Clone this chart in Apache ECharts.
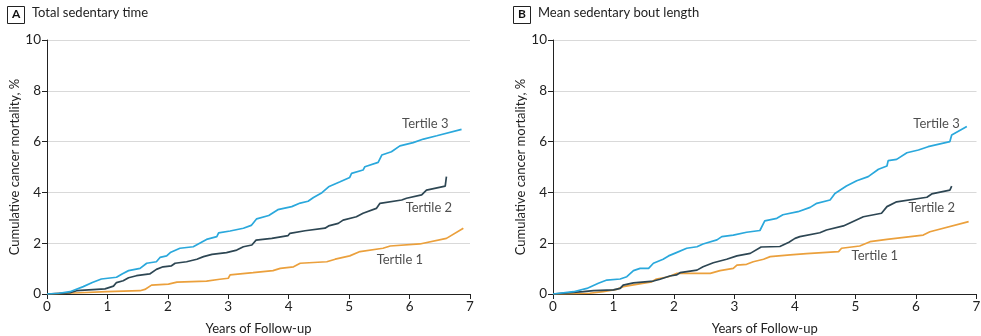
<!DOCTYPE html>
<html>
<head>
<meta charset="utf-8">
<script src="https://cdn.jsdelivr.net/npm/echarts@6/dist/echarts.min.js"></script>
<style>
  html, body { margin: 0; padding: 0; background: #fff; }
  #chart { width: 981px; height: 336px; }
</style>
</head>
<body>
<div id="chart"></div>
<script>
// Cumulative cancer mortality by tertile, [years, percent]
const totalTertile3 = [[0,0],[0.2,0.03],[0.38,0.09],[0.6,0.29],[0.75,0.45],[0.9,0.59],[1.15,0.66],[1.25,0.8],[1.35,0.92],[1.54,1.01],[1.65,1.21],[1.81,1.27],[1.87,1.44],[1.98,1.5],[2.04,1.63],[2.2,1.8],[2.42,1.86],[2.64,2.15],[2.81,2.26],[2.84,2.41],[3.03,2.48],[3.25,2.59],[3.38,2.7],[3.47,2.96],[3.67,3.09],[3.82,3.32],[4.05,3.44],[4.19,3.58],[4.32,3.65],[4.41,3.8],[4.55,3.99],[4.66,4.22],[4.85,4.42],[5.01,4.59],[5.04,4.75],[5.23,4.88],[5.26,5.01],[5.48,5.18],[5.54,5.47],[5.7,5.6],[5.84,5.83],[6.06,5.96],[6.23,6.1],[6.45,6.23],[6.86,6.48]];
const totalTertile2 = [[0,0],[0.38,0.05],[0.49,0.13],[0.96,0.2],[0.99,0.26],[1.1,0.31],[1.15,0.45],[1.26,0.52],[1.35,0.64],[1.48,0.72],[1.7,0.79],[1.81,0.97],[1.92,1.07],[2.06,1.11],[2.12,1.21],[2.31,1.27],[2.48,1.37],[2.59,1.47],[2.73,1.56],[2.97,1.63],[3.14,1.73],[3.25,1.86],[3.39,1.93],[3.46,2.12],[3.72,2.19],[3.99,2.3],[4.02,2.39],[4.27,2.49],[4.6,2.59],[4.66,2.68],[4.82,2.78],[4.9,2.91],[5.12,3.04],[5.23,3.18],[5.45,3.37],[5.51,3.57],[5.87,3.7],[5.95,3.77],[6.2,3.9],[6.28,4.09],[6.59,4.25],[6.61,4.62]];
const totalTertile1 = [[0,0],[0.55,0.05],[0.99,0.09],[1.54,0.13],[1.62,0.18],[1.73,0.35],[2.01,0.39],[2.15,0.47],[2.64,0.51],[2.86,0.58],[3.0,0.62],[3.03,0.75],[3.41,0.84],[3.74,0.92],[3.86,1.01],[4.08,1.07],[4.19,1.21],[4.63,1.27],[4.77,1.37],[5.01,1.5],[5.18,1.67],[5.56,1.8],[5.68,1.89],[6.17,1.97],[6.61,2.19],[6.89,2.59]];

const boutTertile3 = [[0,0],[0.34,0.09],[0.56,0.22],[0.75,0.42],[0.89,0.55],[1.11,0.59],[1.22,0.68],[1.33,0.92],[1.44,1.01],[1.58,1.01],[1.66,1.21],[1.82,1.37],[1.91,1.5],[2.04,1.63],[2.21,1.8],[2.38,1.86],[2.48,1.97],[2.71,2.13],[2.79,2.26],[2.98,2.32],[3.2,2.43],[3.42,2.5],[3.5,2.88],[3.7,2.98],[3.8,3.12],[4.05,3.24],[4.25,3.41],[4.36,3.57],[4.58,3.7],[4.66,3.96],[4.85,4.25],[5.02,4.46],[5.21,4.62],[5.38,4.91],[5.52,5.04],[5.54,5.25],[5.68,5.3],[5.85,5.56],[6.04,5.67],[6.2,5.8],[6.56,6.0],[6.59,6.26],[6.84,6.59]];
const boutTertile2 = [[0,0],[0.5,0.09],[0.67,0.13],[1.0,0.16],[1.11,0.22],[1.16,0.35],[1.33,0.44],[1.66,0.51],[1.77,0.58],[1.93,0.71],[2.04,0.75],[2.1,0.84],[2.38,0.94],[2.48,1.07],[2.65,1.23],[2.87,1.37],[3.04,1.5],[3.26,1.6],[3.44,1.85],[3.75,1.87],[3.9,2.04],[4.0,2.19],[4.08,2.26],[4.41,2.41],[4.52,2.52],[4.8,2.68],[5.13,3.04],[5.43,3.18],[5.52,3.44],[5.68,3.63],[6.18,3.81],[6.26,3.94],[6.56,4.09],[6.59,4.25]];
const boutTertile1 = [[0,0],[0.61,0.03],[0.83,0.09],[1.05,0.18],[1.16,0.29],[1.38,0.38],[1.63,0.48],[1.71,0.59],[1.91,0.68],[2.04,0.81],[2.6,0.81],[2.76,0.92],[2.98,1.01],[3.04,1.14],[3.2,1.17],[3.31,1.27],[3.48,1.37],[3.59,1.47],[3.92,1.54],[4.19,1.59],[4.72,1.67],[4.77,1.8],[5.07,1.89],[5.24,2.06],[5.52,2.15],[6.12,2.32],[6.23,2.45],[6.87,2.85]];

// Tertile names and where each name sits, in data units
const tertileNames = ['Tertile 3', 'Tertile 2', 'Tertile 1'];
const totalNameAnchors = [[6.26, 6.69], [6.32, 3.39], [5.84, 1.34]];
const boutNameAnchors = [[6.34, 6.69], [6.26, 3.39], [5.32, 1.5]];

const panelTitles = [['A', 'Total sedentary time'], ['B', 'Mean sedentary bout length']];
const xTicks = [0, 1, 2, 3, 4, 5, 6, 7];

const FONT = 'Lato, "Noto Sans", sans-serif';
const TEXT = '#222';
const colors = { t3: '#2aa8dc', t2: '#2d4653', t1: '#eba03c' };

const chart = echarts.init(document.getElementById('chart'), null, { renderer: 'canvas' });

const grids = [
  { left: 47, top: 40, width: 423, height: 254, outerBoundsMode: 'none', containLabel: false },
  { left: 553, top: 40, width: 423.5, height: 254, outerBoundsMode: 'none', containLabel: false }
];

function xAxis(i) {
  return {
    type: 'value', gridIndex: i, min: 0, max: 7, interval: 1,
    name: 'Years of Follow-up', nameLocation: 'middle', nameGap: 28,
    nameTextStyle: { color: TEXT, fontFamily: FONT, fontSize: 13 },
    axisLine: { show: true, onZero: false, lineStyle: { color: '#222', width: 1 } },
    axisTick: { show: true, length: 5, lineStyle: { color: '#222' } },
    axisLabel: { color: TEXT, fontFamily: FONT, fontSize: 13.5, margin: 6,
      formatter: v => xTicks.includes(v) ? String(v) : '' },
    splitLine: { show: false }
  };
}
function yAxis(i) {
  return {
    type: 'value', gridIndex: i, min: 0, max: 10, interval: 2,
    name: 'Cumulative cancer mortality, %', nameLocation: 'middle', nameGap: 24,
    nameRotate: 90,
    nameTextStyle: { color: TEXT, fontFamily: FONT, fontSize: 13 },
    axisLine: { show: true, lineStyle: { color: '#222', width: 1 } },
    axisTick: { show: true, length: 5, lineStyle: { color: '#222' } },
    axisLabel: { color: TEXT, fontFamily: FONT, fontSize: 13.5, margin: 6 },
    splitLine: { show: true, lineStyle: { color: '#d9d9d9', width: 1 } }
  };
}

function curve(data, color, i) {
  return {
    type: 'line', xAxisIndex: i, yAxisIndex: i, data: data,
    showSymbol: false, symbol: 'none', silent: true, animation: false,
    lineStyle: { color: color, width: 1.7 }
  };
}
function names(anchors, i) {
  return {
    type: 'scatter', xAxisIndex: i, yAxisIndex: i, symbolSize: 0, silent: true, animation: false,
    data: anchors.map((p, k) => ({ value: p, name: tertileNames[k] })),
    label: { show: true, position: 'inside', formatter: '{b}',
      color: TEXT, fontFamily: FONT, fontSize: 13 }
  };
}

const graphics = [];
panelTitles.forEach((t, i) => {
  const x0 = i === 0 ? 7 : 513;
  graphics.push({
    type: 'rect', left: x0, top: 6, shape: { width: 17, height: 17 },
    style: { fill: '#fff', stroke: '#222', lineWidth: 1 }, silent: true
  });
  graphics.push({
    type: 'text', left: x0 + 5, top: 8,
    style: { text: t[0], fill: '#111', font: 'bold 12px ' + FONT }, silent: true
  });
  graphics.push({
    type: 'text', left: x0 + 25, top: 6,
    style: { text: t[1], fill: TEXT, font: '13px ' + FONT }, silent: true
  });
});

chart.setOption({
  animation: false,
  backgroundColor: '#fff',
  grid: grids,
  xAxis: [xAxis(0), xAxis(1)],
  yAxis: [yAxis(0), yAxis(1)],
  graphic: graphics,
  series: [
    curve(totalTertile1, colors.t1, 0),
    curve(totalTertile2, colors.t2, 0),
    curve(totalTertile3, colors.t3, 0),
    names(totalNameAnchors, 0),
    curve(boutTertile1, colors.t1, 1),
    curve(boutTertile2, colors.t2, 1),
    curve(boutTertile3, colors.t3, 1),
    names(boutNameAnchors, 1)
  ]
});
</script>
</body>
</html>
